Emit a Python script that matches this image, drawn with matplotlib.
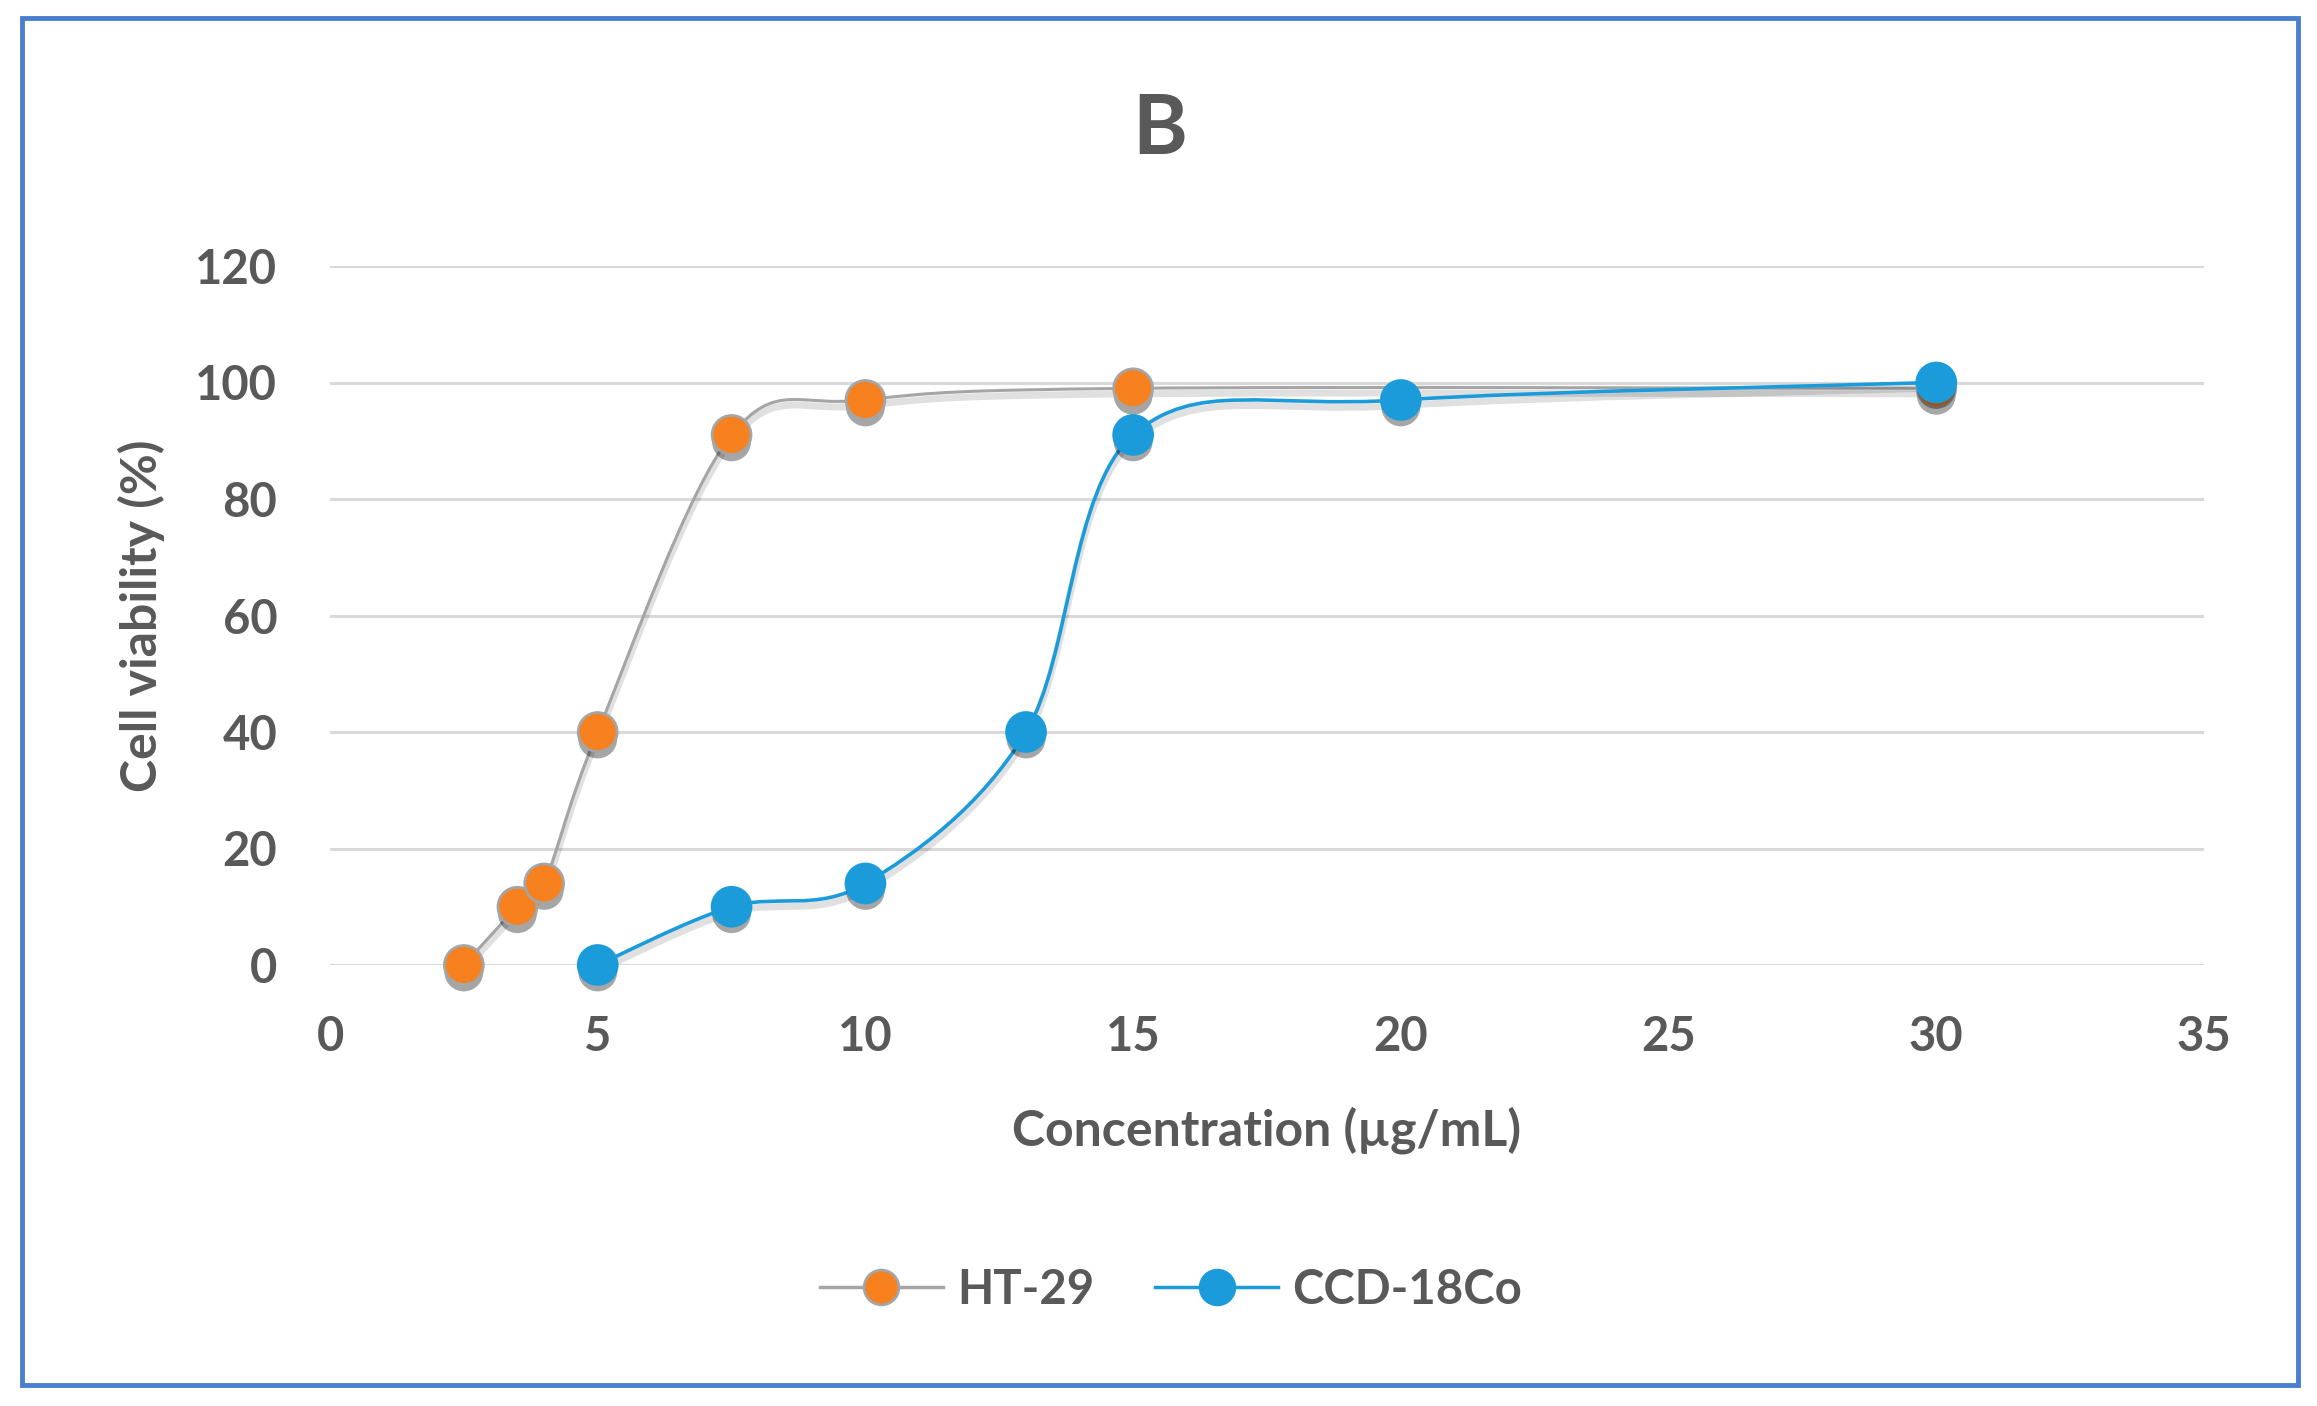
import numpy as np
import matplotlib
matplotlib.use("Agg")
import matplotlib.pyplot as plt
import matplotlib.patheffects as pe
from matplotlib.path import Path
from matplotlib.patches import PathPatch, Rectangle
from matplotlib.lines import Line2D


# data
ht29_conc = [2.5, 3.5, 4, 5, 7.5, 10, 15, 30]
ht29_viab = [0, 10, 14, 40, 91, 97, 99, 99]

ccd_conc = [5, 7.5, 10, 13, 15, 20, 30]
ccd_viab = [0, 10, 14, 40, 91, 97, 100]

x_ticks = [0, 5, 10, 15, 20, 25, 30, 35]
y_ticks = [0, 20, 40, 60, 80, 100, 120]

text_color = '#595959'
grid_color = '#D9D9D9'
gray = '#A5A5A5'
orange = '#F7801F'
blue = '#1C9BDA'

plt.rcParams['font.family'] = ['Lato', 'DejaVu Sans']
plt.rcParams['font.weight'] = 'bold'
plt.rcParams['axes.labelweight'] = 'bold'


def smooth_path(xs, ys):
    # excel style smoothed line: cubic bezier through every point
    pts = np.column_stack([xs, ys]).astype(float)
    padded = np.vstack([pts[0], pts, pts[-1]])
    verts = [pts[0]]
    codes = [Path.MOVETO]
    for i in range(len(pts) - 1):
        p0, p1, p2, p3 = padded[i], padded[i + 1], padded[i + 2], padded[i + 3]
        verts += [p1 + (p2 - p0) / 6, p2 - (p3 - p1) / 6, p2]
        codes += [Path.CURVE4] * 3
    return Path(verts, codes)


fig = plt.figure(figsize=(23.17, 14.06), dpi=100)

ax = fig.add_axes([330 / 2317, 1 - 965 / 1406, (2204 - 330) / 2317, (965 - 266) / 1406])

ax.set_xlim(0, 35)
ax.set_ylim(0, 120)
ax.set_xticks(x_ticks)
ax.set_yticks(y_ticks)

for s in ax.spines.values():
    s.set_visible(False)

ax.yaxis.grid(True, color=grid_color, linewidth=2.2)
ax.set_axisbelow(True)
ax.tick_params(length=0, labelsize=34, labelcolor=text_color)
ax.tick_params(axis='x', pad=36)
ax.tick_params(axis='y', pad=38)

shadow_line = [pe.SimpleLineShadow(offset=(0, -4), shadow_color='black', alpha=0.12, linewidth=5), pe.Normal()]
shadow_mark = [pe.SimplePatchShadow(offset=(0, -5), shadow_rgbFace='black', alpha=0.35), pe.Normal()]

ax.add_patch(PathPatch(
    smooth_path(ht29_conc, ht29_viab),
    fill=False, edgecolor=gray, linewidth=2.2,
    clip_on=False, path_effects=shadow_line
))

ax.add_patch(PathPatch(
    smooth_path(ccd_conc, ccd_viab),
    fill=False, edgecolor=blue, linewidth=2.6,
    clip_on=False, path_effects=shadow_line
))

ax.plot(
    ht29_conc, ht29_viab,
    linestyle='none', marker='o', markersize=28,
    markerfacecolor=orange, markeredgecolor=gray, markeredgewidth=2,
    clip_on=False, path_effects=shadow_mark, zorder=4
)

ax.plot(
    ccd_conc, ccd_viab,
    linestyle='none', marker='o', markersize=28,
    markerfacecolor=blue, markeredgecolor=blue, markeredgewidth=2,
    clip_on=False, path_effects=shadow_mark, zorder=5
)

ax.set_xlabel("Concentration (µg/mL)", fontsize=36, color=text_color, labelpad=34)
ax.set_ylabel("Cell viability (%)", fontsize=36, color=text_color, labelpad=22)

fig.text(1160 / 2317, 1 - 130 / 1406, "B", ha='center', va='center',
         fontsize=60, fontweight='bold', color=text_color)

handles = [
    Line2D([], [], color=gray, linewidth=2.5, marker='o', markersize=25,
           markerfacecolor=orange, markeredgecolor=gray, markeredgewidth=2),
    Line2D([], [], color=blue, linewidth=2.5, marker='o', markersize=25,
           markerfacecolor=blue, markeredgecolor=blue, markeredgewidth=2),
]

fig.legend(
    handles, ["HT-29", "CCD-18Co"],
    loc='center', bbox_to_anchor=(1171 / 2317, 1 - 1290 / 1406),
    ncol=2, frameon=False, fontsize=34, labelcolor=text_color,
    handlelength=2.6, handletextpad=0.3, columnspacing=1.3
)

fig.patches.append(Rectangle(
    (22 / 2317, 1 - 1385 / 1406), (2298 - 22) / 2317, (1385 - 18) / 1406,
    fill=False, edgecolor='#4A7FD0', linewidth=3.5, transform=fig.transFigure
))

fig.savefig("out.png", dpi=100)
